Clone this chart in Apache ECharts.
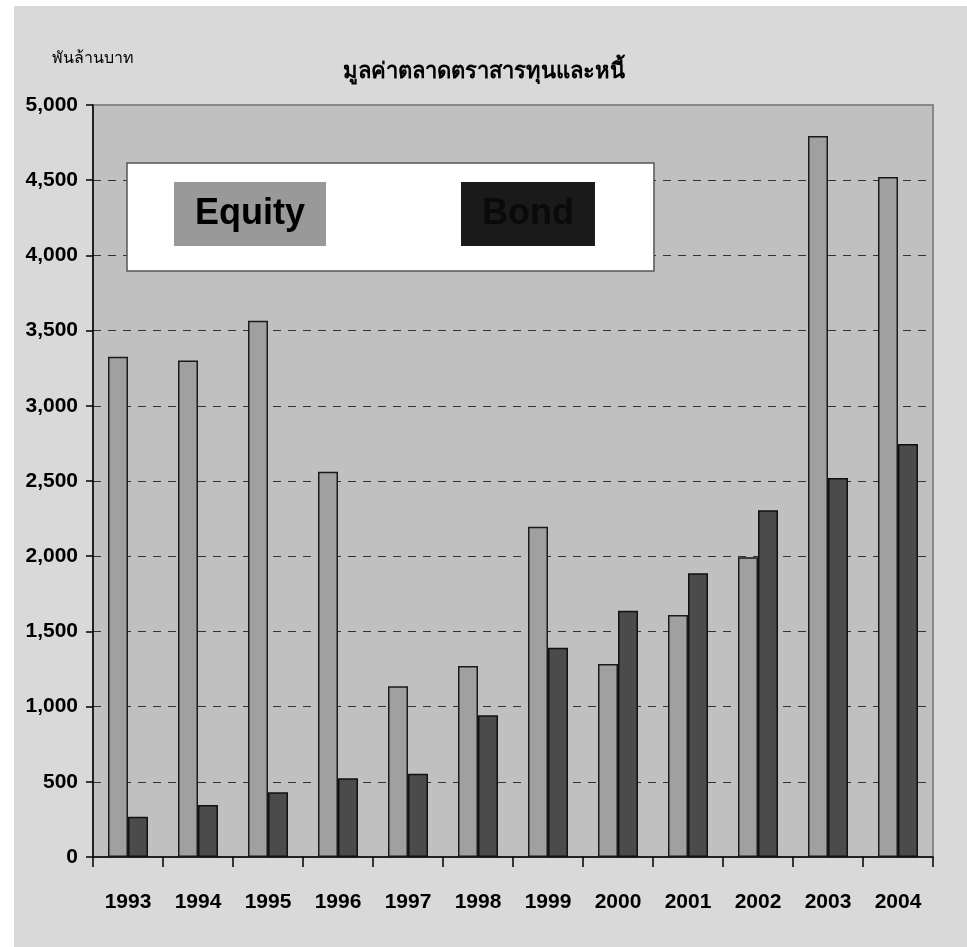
<!DOCTYPE html>
<html>
<head>
<meta charset="utf-8">
<script src="https://cdn.jsdelivr.net/npm/echarts@6/dist/echarts.min.js"></script>
<style>
  html, body { margin: 0; padding: 0; background: #ffffff; }
  #chart { width: 967px; height: 947px; }
</style>
</head>
<body>
<div id="chart"></div>
<script>
// Market value of equity and bond instruments (billion baht)
const years = ['1993', '1994', '1995', '1996', '1997', '1998', '1999', '2000', '2001', '2002', '2003', '2004'];
const equity = [3326, 3302, 3566, 2562, 1135, 1270, 2196, 1283, 1609, 1993, 4794, 4521];
const bond = [268, 346, 430, 523, 554, 942, 1392, 1638, 1886, 2305, 2520, 2746];
const yTicks = { min: 0, max: 5000, step: 500 };

const chart = echarts.init(document.getElementById('chart'), null, { renderer: 'canvas' });

const labelFont = '"Liberation Sans Narrow", "Arial Narrow", "Liberation Sans", Arial, sans-serif';

chart.setOption({
  backgroundColor: '#ffffff',
  animation: false,
  graphic: [{
    type: 'rect',
    z: -10,
    shape: { x: 14, y: 6, width: 967 - 14, height: 947 - 6 },
    style: { fill: '#d9d9d9' }
  }],
  title: {
    text: 'มูลค่าตลาดตราสารทุนและหนี้',
    left: 'center',
    top: 56,
    textStyle: { fontFamily: labelFont, fontSize: 22, fontWeight: 'bold', color: '#000' }
  },
  legend: {
    left: 127,
    top: 163,
    orient: 'horizontal',
    backgroundColor: '#ffffff',
    borderColor: '#555555',
    borderWidth: 1.5,
    padding: [19, 59, 25, 42],
    itemGap: 130,
    itemWidth: 0,
    itemHeight: 0,
    icon: 'none',
    selectedMode: false,
    data: [
      {
        name: 'Equity',
        textStyle: {
          fontFamily: '"Liberation Sans", Arial, sans-serif', fontSize: 36, fontWeight: 'bold',
          color: '#000', backgroundColor: '#999999', lineHeight: 36, padding: [14, 21, 14, 21]
        }
      },
      {
        name: 'Bond',
        textStyle: {
          fontFamily: '"Liberation Sans", Arial, sans-serif', fontSize: 36, fontWeight: 'bold',
          color: '#0a0a0a', backgroundColor: '#1a1a1a', lineHeight: 36, padding: [14, 21, 14, 21]
        }
      }
    ]
  },
  grid: {
    left: 93, top: 105, right: 34, bottom: 90,
    show: true,
    backgroundColor: '#c0c0c0',
    borderColor: '#888888',
    borderWidth: 2
  },
  xAxis: {
    type: 'category',
    data: years,
    boundaryGap: true,
    axisLine: { lineStyle: { color: '#000', width: 1.5 } },
    axisTick: { show: true, length: 10, interval: 0, lineStyle: { color: '#000', width: 1.5 } },
    axisLabel: {
      interval: 0, margin: 35,
      fontFamily: labelFont, fontSize: 21, fontWeight: 'bold', color: '#000'
    },
    splitLine: { show: false }
  },
  yAxis: {
    type: 'value',
    min: yTicks.min,
    max: yTicks.max,
    interval: yTicks.step,
    name: 'พันล้านบาท',
    nameLocation: 'end',
    nameGap: 38,
    nameTextStyle: { fontFamily: labelFont, fontSize: 16, color: '#000', align: 'center' },
    axisLine: { show: true, lineStyle: { color: '#000', width: 1.5 } },
    axisTick: { show: true, length: 7, lineStyle: { color: '#000', width: 1.5 } },
    axisLabel: {
      margin: 15,
      fontFamily: labelFont, fontSize: 21, fontWeight: 'bold', color: '#000',
      formatter: v => v.toLocaleString('en-US')
    },
    splitLine: {
      show: true,
      showMinLine: false,
      showMaxLine: false,
      lineStyle: { color: '#333333', width: 1, type: [8, 7] }
    }
  },
  series: [
    {
      name: 'Equity',
      type: 'bar',
      data: equity,
      barWidth: 20,
      barGap: '0%',
      itemStyle: { color: '#a0a0a0', borderColor: '#1a1a1a', borderWidth: 1.5 }
    },
    {
      name: 'Bond',
      type: 'bar',
      data: bond,
      barWidth: 20,
      barGap: '0%',
      itemStyle: { color: '#4b4b4b', borderColor: '#111111', borderWidth: 1.5 }
    }
  ]
});
</script>
</body>
</html>
